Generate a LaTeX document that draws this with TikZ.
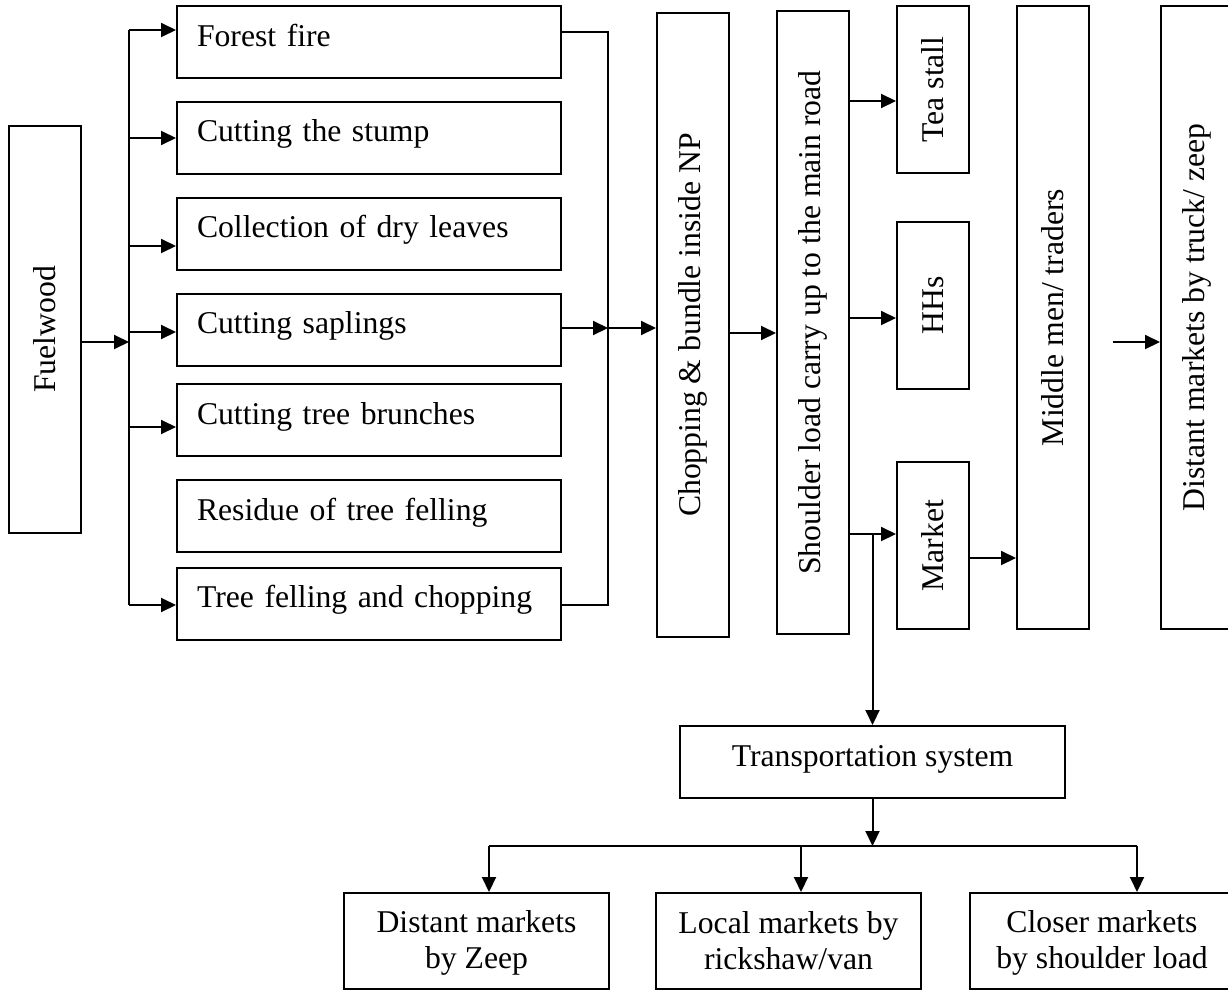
\documentclass[tikz,border=0pt]{standalone}
\usepackage{fontspec}
\setmainfont{Liberation Serif}
\usetikzlibrary{arrows.meta}
\newcommand{\uptext}[1]{\rotatebox{90}{#1}}
% fixed first-line height and last-line depth for two-line boxes
\newcommand{\topstrut}{\rule{0pt}{25.5pt}}
\newcommand{\botstrut}{\rule[-5pt]{0pt}{5pt}}
\begin{document}
\begin{tikzpicture}[x=1pt,y=-1pt,
  every node/.style={font=\fontsize{31.7}{36.5}\selectfont},
  box/.style={draw, line width=2pt, inner sep=0pt},
  lbox/.style={box, text width=344pt, inner xsep=20pt, minimum height=72pt,
    align=left, text height=22.2pt, text depth=13.6pt},
  vbox/.style={box, minimum width=72pt, minimum height=#1},
  bbox/.style={box, minimum width=265pt, minimum height=96pt, align=center},
  link/.style={line width=2pt},
  arr/.style={link, -{Triangle[length=15pt,width=14pt]}}]
\useasboundingbox (0,0) rectangle (1228,990);
\fill[white] (0,0) rectangle (1228,990);
\clip (0,0) rectangle (1228,990);

% sources of fuelwood
\node[vbox=407pt] (fuel) at (44.5,329.5) {\uptext{Fuelwood}};
\node[lbox] (ff) at (369,42) {Forest fire};
\node[lbox] (stump) at (369,137.5) {Cutting the stump};
\node[lbox] (leaves) at (369,233.5) {Collection of dry leaves};
\node[lbox] (sap) at (369,329.5) {Cutting saplings};
\node[lbox] (brunch) at (369,420) {Cutting tree brunches};
\node[lbox] (resid) at (369,516) {Residue of tree felling};
\node[lbox] (fell) at (369,603.5) {Tree felling and chopping};

% processing and outlets
\node[vbox=624pt] (chop) at (693,325) {\uptext{Chopping \& bundle inside NP}};
\node[vbox=623pt] (carry) at (813,322.5) {\uptext{Shoulder load carry up to the main road}};
\node[vbox=167pt] (tea) at (933,89.5) {\uptext{Tea stall}};
\node[vbox=167pt] (hh) at (933,305.5) {\uptext{HHs}};
\node[vbox=167pt] (mkt) at (933,545.5) {\uptext{Market}};
\node[vbox=623pt] (mid) at (1053,317.5) {\uptext{Middle men/ traders}};
\node[vbox=623pt] (far) at (1197,317.5) {\uptext{Distant markets by truck/ zeep}};

% transport branch
\node[box, minimum width=385pt, minimum height=72pt, text height=22.2pt, text depth=13.6pt]
  (trans) at (872.5,762) {Transportation system};
\node[bbox] (zeep) at (476.5,941) {\topstrut Distant markets\\by Zeep\botstrut};
\node[bbox] (van) at (788.5,941) {\topstrut Local markets by\\rickshaw/van\botstrut};
\node[bbox] (shoulder) at (1102,941) {\topstrut Closer markets\\by shoulder load\botstrut};

% fan-out from fuelwood
\coordinate (fj) at (129,342);
\coordinate (t1) at (129,30);
\coordinate (t2) at (129,138);
\coordinate (t3) at (129,246);
\coordinate (t4) at (129,332);
\coordinate (t5) at (129,427);
\coordinate (t6) at (129,605);
\draw[arr] (fuel.east |- fj) -- (fj);
\draw[link] (t1) -- (t6);
\draw[arr] (t1) -- (ff.west |- t1);
\draw[arr] (t2) -- (stump.west |- t2);
\draw[arr] (t3) -- (leaves.west |- t3);
\draw[arr] (t4) -- (sap.west |- t4);
\draw[arr] (t5) -- (brunch.west |- t5);
\draw[arr] (t6) -- (fell.west |- t6);

% collector into chopping
\coordinate (ctop) at (608,32);
\coordinate (cmid) at (608,328);
\coordinate (cbot) at (608,605);
\draw[link] (ff.east |- ctop) -- (ctop) -- (cbot) -- (fell.east |- cbot);
\draw[arr] (sap.east |- cmid) -- (cmid);
\draw[arr] (cmid) -- (chop.west |- cmid);

\coordinate (r0) at (0,333);
\draw[arr] (chop.east |- r0) -- (carry.west |- r0);

% outlets from the main road
\coordinate (r1) at (0,101);
\coordinate (r2) at (0,318);
\coordinate (r3) at (0,534);
\coordinate (r4) at (0,558);
\draw[arr] (carry.east |- r1) -- (tea.west |- r1);
\draw[arr] (carry.east |- r2) -- (hh.west |- r2);
\draw[arr] (carry.east |- r3) -- (mkt.west |- r3);
\draw[arr] (mkt.east |- r4) -- (mid.west |- r4);
\coordinate (fs) at (1113,342);
\draw[arr] (fs) -- (far.west |- fs);

\coordinate (dn) at (872.5,534);
\draw[arr] (dn) -- (trans.north);

% split of transportation
\coordinate (hub) at (872.5,846);
\coordinate (hl) at (489,846);
\coordinate (hm) at (801,846);
\coordinate (hr) at (1137,846);
\draw[arr] (trans.south) -- (hub);
\draw[link] (hl) -- (hr);
\draw[arr] (hl) -- (hl |- zeep.north);
\draw[arr] (hm) -- (hm |- van.north);
\draw[arr] (hr) -- (hr |- shoulder.north);
\end{tikzpicture}
\end{document}
